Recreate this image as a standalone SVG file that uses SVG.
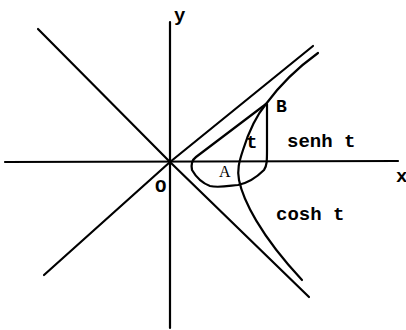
<svg xmlns="http://www.w3.org/2000/svg" width="406" height="330" viewBox="0 0 406 330">
<style>
.ln{stroke:#000;stroke-width:2.2;fill:none;stroke-linecap:round;stroke-linejoin:round}
.tx{font-family:"Liberation Mono","Courier New",monospace;font-weight:bold;fill:#000}
</style>
<rect width="406" height="330" fill="#fff"/>
<g id="axes">
<line class="ln" x1="5" y1="162" x2="398" y2="161"/>
<line class="ln" x1="170" y1="22" x2="170" y2="328"/>
</g>
<g id="asymptotes">
<line class="ln" x1="38" y1="29" x2="170" y2="162"/>
<line class="ln" x1="44" y1="275" x2="170" y2="162"/>
<line class="ln" x1="170" y1="162" x2="313" y2="46"/>
<line class="ln" x1="170" y1="162" x2="309" y2="297"/>
</g>
<g id="hyperbola">
<path class="ln" d="M318,53 C300,66 282,82 266,104 C256,116 248,134 243,150 C239,162 237,170 239,180 C243,200 260,235 302,280"/>
</g>
<g id="region">
<path class="ln" d="M266,104 L196,157 C192,160 191,165 192,170 C196,177 202,183 210,186 C218,188 228,186 238,185 C248,183 258,176 264,170 C267,166 267,160 267,150 L267,104"/>
</g>
<g id="labels">
<text class="tx" x="174" y="21" font-size="19">y</text>
<text class="tx" x="396" y="182" font-size="19">x</text>
<text class="tx" x="155" y="192" font-size="19">O</text>
<text class="tx" x="276" y="112" font-size="18">B</text>
<text x="219" y="177" font-family="Liberation Serif, serif" font-size="16">A</text>
<text class="tx" x="246" y="148" font-size="19">t</text>
<text class="tx" x="287" y="147" font-size="19">senh t</text>
<text class="tx" x="276" y="220" font-size="19">cosh t</text>
</g>
</svg>
